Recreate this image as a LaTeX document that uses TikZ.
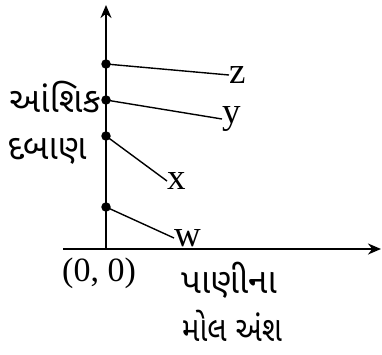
\documentclass[tikz,border=0pt]{standalone}
\usepackage{fontspec}
\setmainfont{Liberation Serif}
\newfontfamily\guj[Script=Gujarati]{Noto Sans Gujarati UI}
\usetikzlibrary{arrows.meta}
\begin{document}
\begin{tikzpicture}[x=1pt,y=-1pt,
  axis/.style={line width=2.6pt,-{Stealth[length=13pt,width=11pt]}},
  conn/.style={line width=1.4pt},
  dot/.style={circle,fill=black,inner sep=0pt,minimum size=9.5pt},
  lat/.style={font=\fontsize{34}{34}\selectfont,inner sep=0pt},
  let/.style={font=\fontsize{37}{37}\selectfont,inner sep=0pt,anchor=west},
  gu/.style={font=\guj\fontsize{35}{35}\selectfont,inner sep=0pt}]
\useasboundingbox (0,0) rectangle (382,354);
\coordinate (o) at (106,249);
\coordinate (ytop) at (106,5);
\coordinate (xl) at (63,249);
\coordinate (xr) at (381,249);
\draw[axis] (o) -- (ytop);
\draw[axis] (xl) -- (xr);
\node[dot] (dz) at (106,64) {};
\node[dot] (dy) at (106,100) {};
\node[dot] (dx) at (106,136) {};
\node[dot] (dw) at (106,207) {};
\node[let] (lz) at (229,75) {z};
\node[let] (ly) at (222,119) {y};
\node[let] (lx) at (167,181) {x};
\node[let] (lw) at (174,238) {w};
\draw[conn] (dz.center) -- (lz.west);
\draw[conn] (dy.center) -- (ly.west);
\draw[conn] (dx.center) -- (lx.west);
\draw[conn] (dw.center) -- (lw.west);
\node[gu] (t1) at (55,97) {આંશિક};
\node[gu] (t2) at (47,151) {દબાણ};
\node[lat] (orig) at (99,273) {(0, 0)};
\node[gu] (t3) at (229,280) {પાણીના};
\node[gu] (t4) at (232,326) {\scalebox{0.85}[1]{મોલ અંશ}};
\end{tikzpicture}
\end{document}
